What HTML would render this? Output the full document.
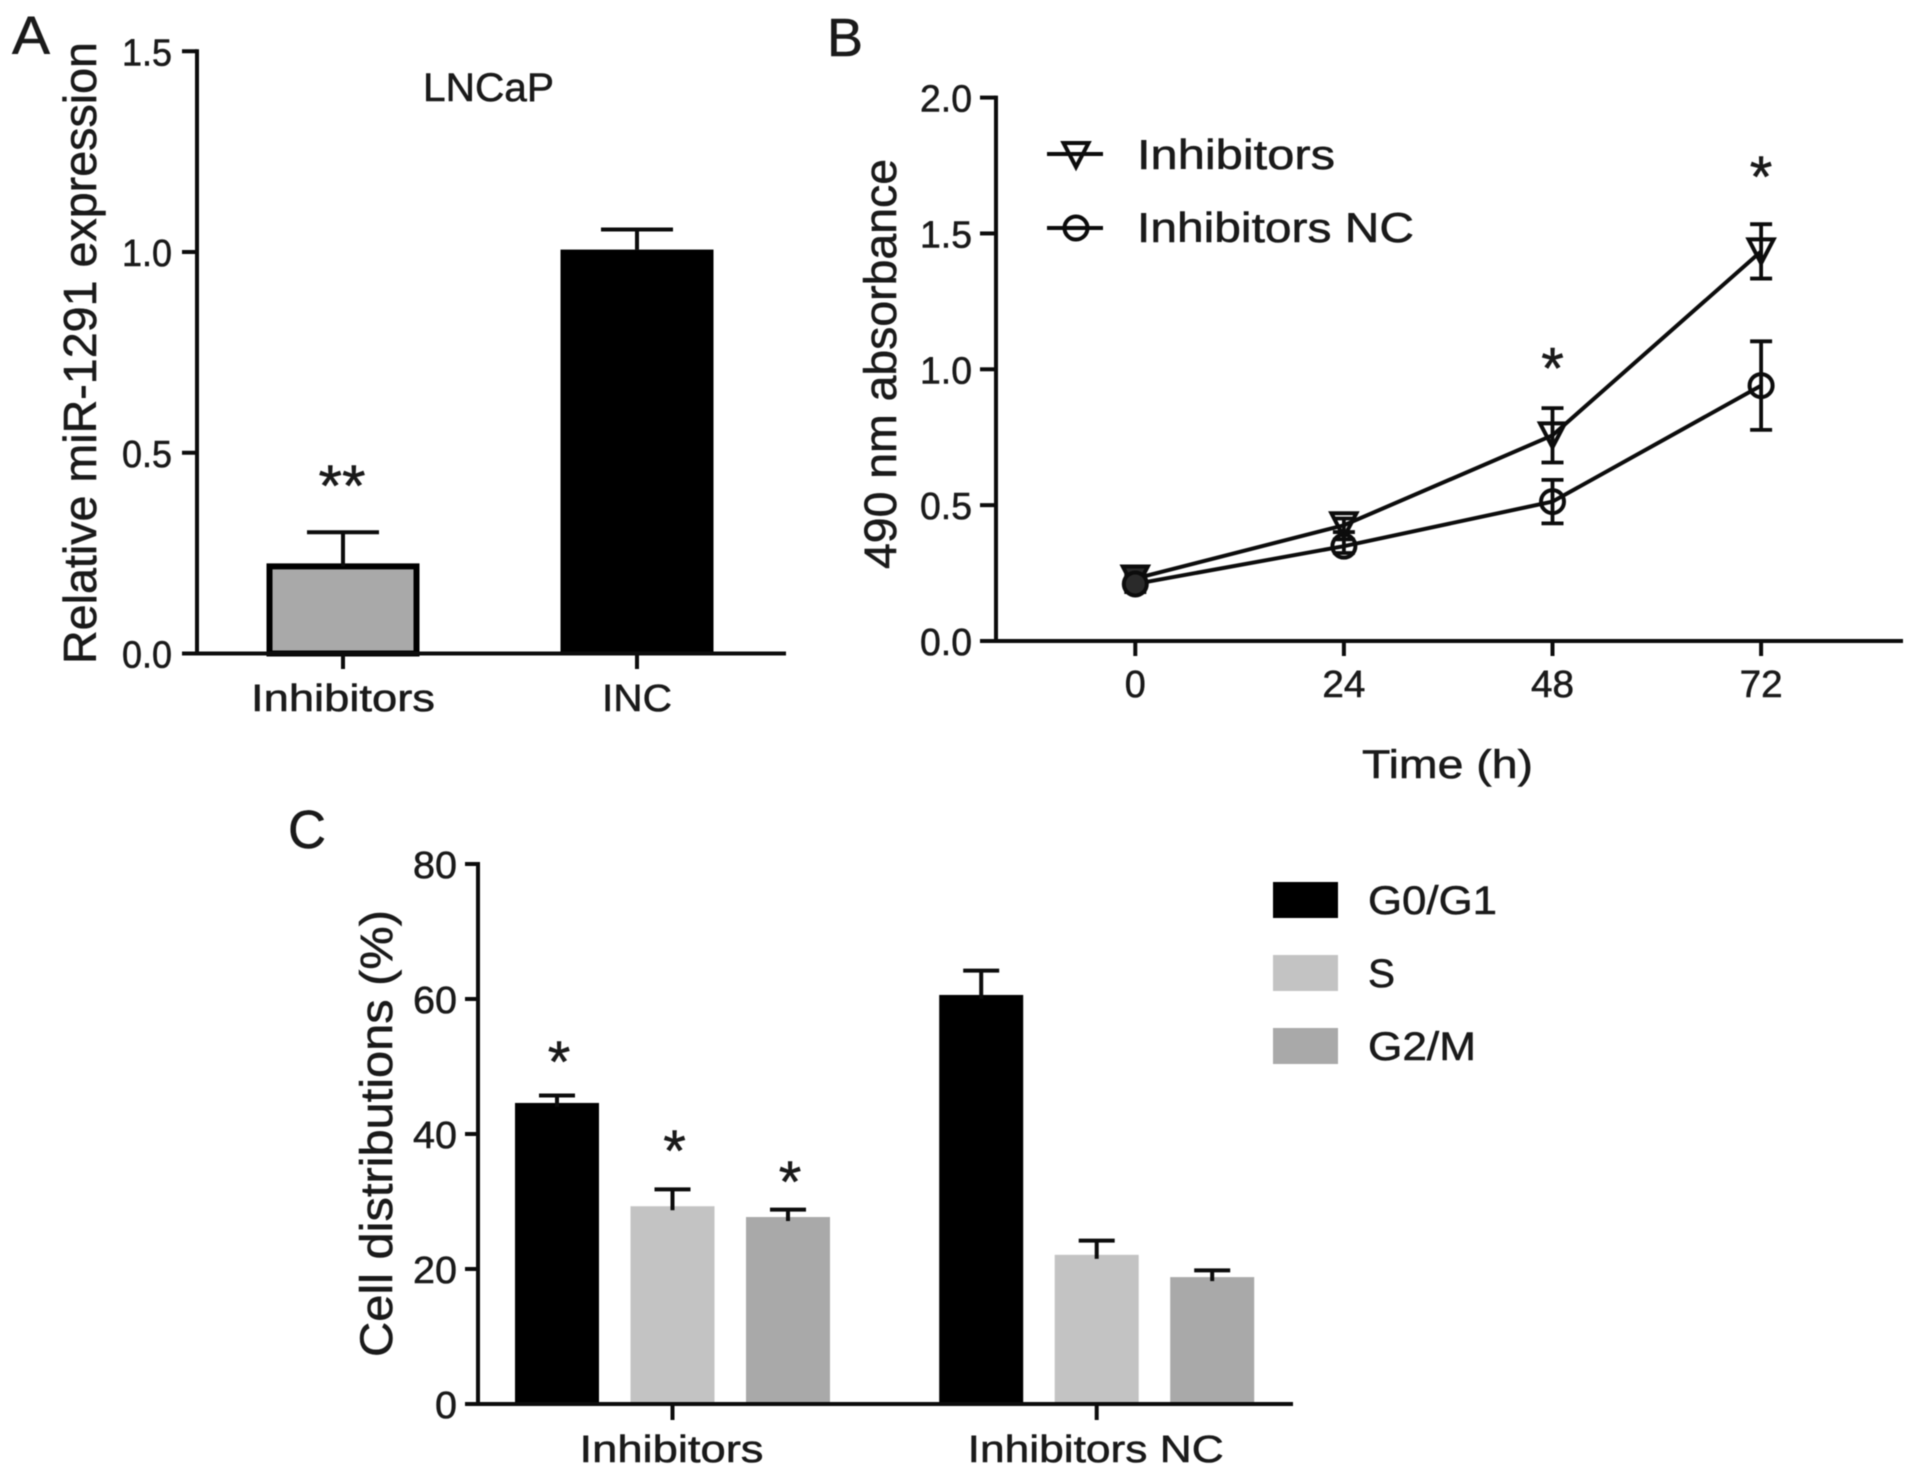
<!DOCTYPE html>
<html lang="en">
<head>
<meta charset="utf-8">
<title>miR-1291 inhibitor figure</title>
<style>
html,body{margin:0;padding:0;background:#fff;}
#figure{display:block;width:1913px;height:1475px;background:#fff;}
#figure text{font-family:"Liberation Sans",Arial,sans-serif;fill:#1a1a1a;stroke:#1a1a1a;stroke-width:0.55px;}
#content{filter:blur(0.6px);}
</style>
</head>
<body>
<svg id="figure" xmlns="http://www.w3.org/2000/svg" width="1913" height="1475" viewBox="0 0 1913 1475">
  <g id="content"></g>
</svg>
<script>
// Panel A data
const catsA = ['Inhibitors', 'INC'];
const valuesA = [0.217, 1.006];
const errorsA = [0.085, 0.05];
const ticksA = ['0.0', '0.5', '1.0', '1.5'];
const starTextA = ['**', ''];
const starLevelA = [0.367, 0];

// Panel B data
const hoursB = [0, 24, 48, 72];
const inhibitorsB = [0.23, 0.426, 0.757, 1.434];
const inhibitorsErrB = [0.03, 0.025, 0.1, 0.1];
const controlB = [0.21, 0.349, 0.513, 0.94];
const controlErrB = [0.03, 0.025, 0.08, 0.163];
const ticksB = ['0.0', '0.5', '1.0', '1.5', '2.0'];
const starHoursB = [48, 72];
const starLevelB = [0.93, 1.635];

// Panel C data
const groupsC = ['Inhibitors', 'Inhibitors NC'];
const phasesC = ['G0/G1', 'S', 'G2/M'];
const g0g1C = [44.6, 60.6];
const sPhaseC = [29.3, 22.1];
const g2mC = [27.7, 18.8];
const g0g1ErrC = [1.1, 3.6];
const sPhaseErrC = [2.5, 2.1];
const g2mErrC = [1.1, 1.0];
const ticksC = ['0', '20', '40', '60', '80'];
const starTextC = ['*', '*', '*'];
const starLevelC = [47.7, 34.5, 29.9];

const NS = 'http://www.w3.org/2000/svg';
const root = document.getElementById('content');

function mk(tag, attrs, parent) {
  const el = document.createElementNS(NS, tag);
  for (const k in attrs) el.setAttribute(k, attrs[k]);
  (parent || root).appendChild(el);
  return el;
}
function line(x1, y1, x2, y2, w, parent) {
  return mk('line', {x1: x1, y1: y1, x2: x2, y2: y2, stroke: '#0c0c0c', 'stroke-width': w || 4}, parent);
}
function label(str, x, y, size, len, anchor, rot, parent) {
  const a = {x: x, y: y, 'font-size': size, 'text-anchor': anchor || 'start'};
  if (len) { a.textLength = len; a.lengthAdjust = 'spacingAndGlyphs'; }
  if (rot) a.transform = 'rotate(-90 ' + x + ' ' + y + ')';
  const el = mk('text', a, parent);
  el.textContent = str;
  return el;
}
function group(name) {
  const g = mk('g', {});
  
  
  return g;
}
function errorBar(x, yVal, yCap, half, parent) {
  const g = mk('g', {}, parent);
  line(x, yVal, x, yCap, 4, g);
  line(x - half, yCap, x + half, yCap, 4, g);
  return g;
}

/* ---------- Panel A ---------- */
const yA = v => 653.5 - v * 401.5;
const xA = i => 343 + i * 294;
const panelA = group('panel-a');

const letterA = label('A', 12, 54, 54, 38, 'start', false, panelA);



const titleA = label('LNCaP', 423, 101, 40, 131, 'start', false, panelA);



const yTitleA = label('Relative miR-1291 expression', 96, 664, 46, 622, 'start', true, panelA);



catsA.forEach((c, i) => {
  const barW = i === 0 ? 147 : 153;
  const isOutlined = i === 0;
  const top = yA(valuesA[i]);
  const bar = mk('rect', {
    x: xA(i) - barW / 2, y: top, width: barW, height: yA(0) - top,
    fill: isOutlined ? '#a9a9a9' : '#000',
    stroke: isOutlined ? '#000' : 'none',
    'stroke-width': isOutlined ? 6 : 0
  }, panelA);
  
  

  const eb = errorBar(xA(i), top, yA(valuesA[i] + errorsA[i]), 36, panelA);
  
  

  const t = line(xA(i), yA(0), xA(i), 669, 4, panelA);
  
  

  const tl = label(c, xA(i), 711, 38, i === 0 ? 184 : 70, 'middle', false, panelA);
  
  

  if (starTextA[i]) {
    const s = label(starTextA[i], xA(i) - 1, yA(starLevelA[i]), 58, 47, 'middle', false, panelA);
    
    
  }
});
ticksA.forEach(t => {
  const y = yA(parseFloat(t));
  const tk = line(182, y, 197, y, 4, panelA);
  
  
  const tl = label(t, 172, y + 14, 38, 50, 'end', false, panelA);
  
  
});
const yAxisA = line(197, yA(1.5) - 2, 197, yA(0) + 2, 4, panelA);


const xAxisA = line(182, yA(0), 786, yA(0), 4, panelA);



/* ---------- Panel B ---------- */
const yB = v => 641 - v * 271.7;
const xB = h => 1135.3 + h * 208.6 / 24;
const panelB = group('panel-b');

const letterB = label('B', 827, 56, 54, 36, 'start', false, panelB);



const yTitleB = label('490 nm absorbance', 896, 569, 45, 410, 'start', true, panelB);



const xTitleB = label('Time (h)', 1362, 778, 40, 171, 'start', false, panelB);



ticksB.forEach(t => {
  const y = yB(parseFloat(t));
  const tk = line(980, y, 996, y, 4, panelB);
  
  
  const tl = label(t, 972, y + 14, 38, 52, 'end', false, panelB);
  
  
});
hoursB.forEach(h => {
  const tk = line(xB(h), yB(0), xB(h), 656, 4, panelB);
  
  
  const tl = label(String(h), xB(h), 697, 38, h === 0 ? 21 : 43, 'middle', false, panelB);
  
  
});
const yAxisB = line(996, yB(2) - 2, 996, yB(0) + 2, 4, panelB);


const xAxisB = line(980, yB(0), 1903, yB(0), 4, panelB);



function triangle(x, y, parent, fill) {
  return mk('path', {
    d: 'M' + (x - 12.5) + ' ' + (y - 12) + 'H' + (x + 12.5) + 'L' + x + ' ' + (y + 12) + 'Z',
    fill: fill || 'none', stroke: '#0c0c0c', 'stroke-width': 4
  }, parent);
}
function circle(x, y, parent, fill) {
  return mk('circle', {cx: x, cy: y, r: 11.5, fill: fill || 'none', stroke: '#0c0c0c', 'stroke-width': 4}, parent);
}
function lineSeries(name, vals, errs, marker) {
  const g = mk('g', {}, panelB);
  
  
  const pts = hoursB.map((h, i) => xB(h) + ',' + yB(vals[i])).join(' ');
  mk('polyline', {points: pts, fill: 'none', stroke: '#0c0c0c', 'stroke-width': 4}, g);
  hoursB.forEach((h, i) => {
    const x = xB(h);
    line(x, yB(vals[i] - errs[i]), x, yB(vals[i] + errs[i]), 3.8, g);
    line(x - 11, yB(vals[i] + errs[i]), x + 11, yB(vals[i] + errs[i]), 3.8, g);
    line(x - 11, yB(vals[i] - errs[i]), x + 11, yB(vals[i] - errs[i]), 3.8, g);
    // the first time point's overlapping error bars read as a nearly solid marker
    marker(x, yB(vals[i]), g, i === 0 ? '#2a2a2a' : 'none');
  });
}
lineSeries('series-inhibitors', inhibitorsB, inhibitorsErrB, triangle);
lineSeries('series-inhibitors-nc', controlB, controlErrB, circle);

starHoursB.forEach((h, i) => {
  const s = label('*', xB(h), yB(starLevelB[i]), 58, 0, 'middle', false, panelB);
  
  
});

const legendB1 = mk('g', {}, panelB);


line(1047, 154, 1103, 154, 4, legendB1);
triangle(1076, 155, legendB1);
label('Inhibitors', 1137, 169, 42, 198, 'start', false, legendB1);

const legendB2 = mk('g', {}, panelB);


line(1047, 228, 1103, 228, 4, legendB2);
circle(1076, 228, legendB2);
label('Inhibitors NC', 1137, 242, 42, 277, 'start', false, legendB2);

/* ---------- Panel C ---------- */
const yC = v => 1404 - v * 6.75;
const xGroupC = g => 672.5 + g * 424.2;
const xBarC = (g, p) => xGroupC(g) + (p - 1) * 115.5;
const panelC = group('panel-c');
const phaseColors = ['#000000', '#c3c3c3', '#a9a9a9'];
const phaseValues = [g0g1C, sPhaseC, g2mC];
const phaseErrors = [g0g1ErrC, sPhaseErrC, g2mErrC];

const letterC = label('C', 288, 848, 54, 38, 'start', false, panelC);



const yTitleC = label('Cell distributions (%)', 392, 1357, 45, 447, 'start', true, panelC);



groupsC.forEach((name, g) => {
  phasesC.forEach((ph, p) => {
    const x = xBarC(g, p);
    const v = phaseValues[p][g];
    const top = yC(v);
    const bar = mk('rect', {x: x - 42, y: top, width: 84, height: yC(0) - top, fill: phaseColors[p]}, panelC);
    
    
    const eb = errorBar(x, top + 4, yC(v + phaseErrors[p][g]), 18, panelC);
    
    
  });
  const tk = line(xGroupC(g), yC(0), xGroupC(g), 1420, 4, panelC);
  
  
  const tl = label(name, xGroupC(g) - 1, 1462, 38, g === 0 ? 184 : 256, 'middle', false, panelC);
  
  
});
starTextC.forEach((st, p) => {
  const s = label(st, xBarC(0, p) + 2, yC(starLevelC[p]), 58, 0, 'middle', false, panelC);
  
  
});
ticksC.forEach(t => {
  const y = yC(parseFloat(t));
  const tk = line(465, y, 480, y, 4, panelC);
  
  
  const tl = label(t, 457, y + 14, 38, t.length > 1 ? 44 : 22, 'end', false, panelC);
  
  
});
const yAxisC = line(478, yC(80) - 2, 478, yC(0) + 2, 4, panelC);


const xAxisC = line(465, yC(0), 1293, yC(0), 4, panelC);



phasesC.forEach((ph, p) => {
  const g = mk('g', {}, panelC);
  
  
  const top = 882 + p * 73;
  mk('rect', {x: 1273, y: top, width: 65, height: 36, fill: phaseColors[p]}, g);
  label(ph, 1368, top + 32, 40, [129, 27, 108][p], 'start', false, g);
});
</script>
</body>
</html>
